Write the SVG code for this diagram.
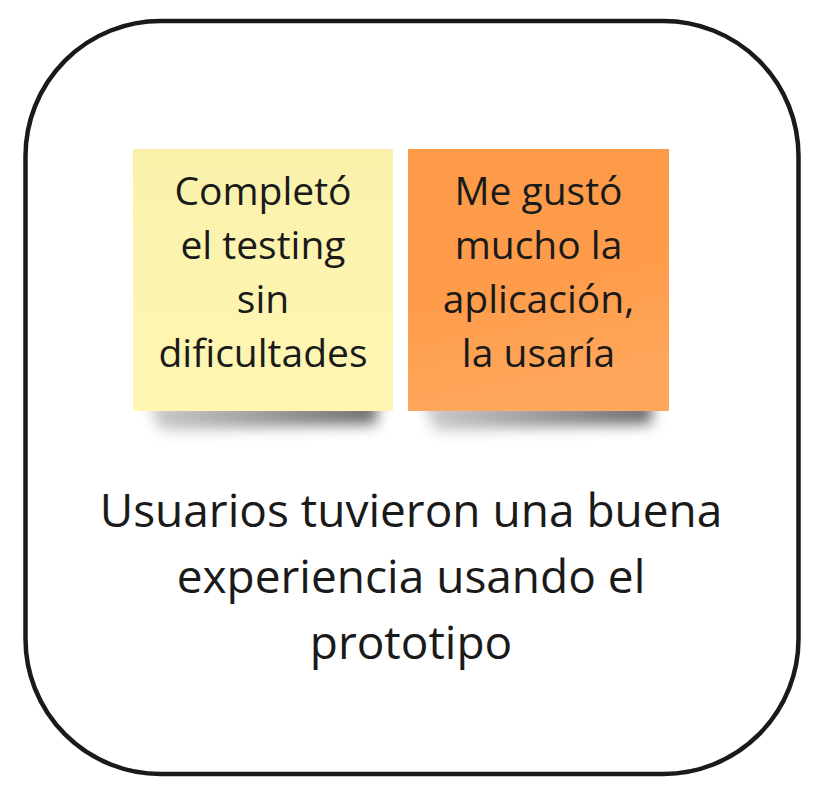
<svg xmlns="http://www.w3.org/2000/svg" width="821" height="795" viewBox="0 0 821 795">
  <defs>
    <style>
      .t { font-family: "Open Sans", "Noto Sans", "Liberation Sans", sans-serif; fill: #1a1a1a; text-anchor: middle; }
      .st { font-size: 39px; }
      .big { font-size: 46px; }
    </style>
    <linearGradient id="gy" x1="0" y1="0" x2="0" y2="1">
      <stop offset="0" stop-color="#faf1ab"/>
      <stop offset="1" stop-color="#fff6b3"/>
    </linearGradient>
    <linearGradient id="go" x1="0" y1="0" x2="0.2" y2="1">
      <stop offset="0" stop-color="#fd9a48"/>
      <stop offset="0.6" stop-color="#fe9c4b"/>
      <stop offset="1" stop-color="#ffa75c"/>
    </linearGradient>
    <linearGradient id="gs" x1="0" y1="0" x2="1" y2="0">
      <stop offset="0" stop-color="#000" stop-opacity="0.2"/>
      <stop offset="0.5" stop-color="#000" stop-opacity="0.4"/>
      <stop offset="1" stop-color="#000" stop-opacity="0.6"/>
    </linearGradient>
    <filter id="sh" x="-20%" y="-200%" width="140%" height="500%">
      <feGaussianBlur stdDeviation="7"/>
    </filter>
  </defs>
  <rect width="821" height="795" fill="#ffffff"/>
  <g id="frame">
    <rect x="25.5" y="21" width="773" height="753" rx="135" ry="135" fill="#ffffff" stroke="#1a1a1a" stroke-width="4.5"/>
  </g>
  <g id="connectors"></g>
  <g id="note-yellow">
    <path d="M148,402 L378,402 L376,424 L160,430 Z" fill="url(#gs)" filter="url(#sh)"/>
    <rect x="133" y="149" width="260" height="262" fill="url(#gy)"/>
    <text class="t st" x="263" y="205">Completó</text>
    <text class="t st" x="263" y="259">el testing</text>
    <text class="t st" x="263" y="313">sin</text>
    <text class="t st" x="263" y="367">dificultades</text>
  </g>
  <g id="note-orange">
    <path d="M423,402 L653,402 L651,424 L435,430 Z" fill="url(#gs)" filter="url(#sh)"/>
    <rect x="408" y="149" width="261" height="262" fill="url(#go)"/>
    <text class="t st" x="538.5" y="205">Me gustó</text>
    <text class="t st" x="538.5" y="259">mucho la</text>
    <text class="t st" x="538.5" y="313">aplicación,</text>
    <text class="t st" x="538.5" y="367">la usaría</text>
  </g>
  <g id="label">
    <text class="t big" x="411" y="527">Usuarios tuvieron una buena</text>
    <text class="t big" x="411" y="593">experiencia usando el</text>
    <text class="t big" x="411" y="659">prototipo</text>
  </g>
</svg>
